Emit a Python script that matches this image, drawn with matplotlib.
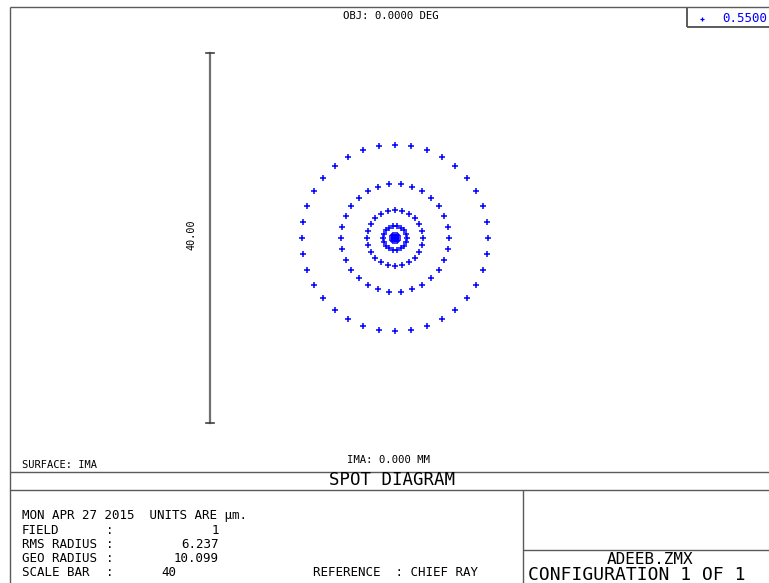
import numpy as np
import matplotlib
matplotlib.use("Agg")
import matplotlib.pyplot as plt

plt.rcParams["font.family"] = ["DejaVu Sans Mono", "DejaVu Sans"]

W, H = 769, 583
LINE = "#5a5a5a"
SPOT = "#0000ff"

# spot diagram data (micrometres): hexapolar rings, radius and ray count
ring_radius = [10.099, 5.85, 2.99, 1.28, 0.37, 0.05, 0.0]
ring_count = [36, 30, 24, 18, 12, 6, 1]
scale_bar = 40.0

info_labels = ["FIELD", "RMS RADIUS", "GEO RADIUS", "SCALE BAR"]
info_values = ["1", "6.237", "10.099", "40"]

fig = plt.figure(figsize=(W / 100, H / 100), dpi=100)

# page frame in pixel coordinates
bg = fig.add_axes([0, 0, 1, 1])
bg.set_xlim(0, W)
bg.set_ylim(H, 0)
bg.axis("off")

def hline(y, x0, x1, lw=1.0):
    bg.plot([x0, x1], [y, y], color=LINE, lw=lw, solid_capstyle="butt")

def vline(x, y0, y1, lw=1.0):
    bg.plot([x, x], [y0, y1], color=LINE, lw=lw, solid_capstyle="butt")

hline(6.5, 9.5, W)
vline(9.5, 6.5, H)
hline(471.5, 9.5, W)
hline(489.5, 9.5, W)
vline(522.5, 489.5, H)
hline(549.5, 522.5, W)
# wavelength box
vline(687, 6.5, 27, lw=1.4)
hline(27, 687, W, lw=1.4)

bg.text(391, 16, "OBJ: 0.0000 DEG", fontsize=7.7, ha="center", va="center")
bg.plot([702], [19], marker="+", ms=3.5, mew=0.9, color=SPOT, ls="none")
bg.text(722, 18.5, "0.5500", fontsize=9, color=SPOT, ha="left", va="center")

bg.text(22, 465, "SURFACE: IMA", fontsize=7.5, ha="left", va="center")
bg.text(388, 460, "IMA: 0.000 MM", fontsize=7.7, ha="center", va="center")
bg.text(392, 480, "SPOT DIAGRAM", fontsize=12.5, ha="center", va="center")

bg.text(22, 516, "MON APR 27 2015  UNITS ARE \u00b5m.", fontsize=9, ha="left", va="center")
for i, (lab, val) in enumerate(zip(info_labels, info_values)):
    y = 530 + i * 14.3
    bg.text(22, y, lab, fontsize=9, ha="left", va="center")
    bg.text(106, y, ":", fontsize=9, ha="left", va="center")
    if lab == "SCALE BAR":
        bg.text(161, y, val, fontsize=9, ha="left", va="center")
    else:
        bg.text(219, y, val, fontsize=9, ha="right", va="center")
bg.text(313, 573, "REFERENCE  : CHIEF RAY", fontsize=9, ha="left", va="center")

bg.text(650, 560, "ADEEB.ZMX", fontsize=11.5, ha="center", va="center")
bg.text(528, 575.5, "CONFIGURATION 1 OF 1", fontsize=13, ha="left", va="center")

# spot axes: 40 um box centred on the chief ray
ax = fig.add_axes([210 / W, (H - 423) / H, 370 / W, 370 / H])
ax.set_xlim(-scale_bar / 2, scale_bar / 2)
ax.set_ylim(-scale_bar / 2, scale_bar / 2)
ax.axis("off")

for r, n in zip(ring_radius, ring_count):
    ang = 2 * np.pi * np.arange(n) / n
    ax.plot(r * np.cos(ang), r * np.sin(ang), ls="none", marker="+",
            ms=4, mew=1.1, color=SPOT, clip_on=False)

# scale bar
ax.plot([-20, -20], [-20, 20], color="#707070", lw=1.6, clip_on=False)
for yy in (-20, 20):
    ax.plot([-20.45, -19.55], [yy, yy], color="#404040", lw=1.2, clip_on=False)
ax.text(-22.05, 0.4, "40.00", rotation=90, fontsize=7.3, ha="center", va="center")

fig.savefig("out.png", dpi=100)
